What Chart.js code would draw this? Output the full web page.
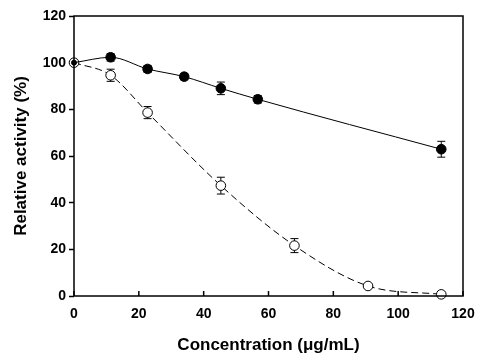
<!DOCTYPE html>
<html>
<head>
<meta charset="utf-8">
<script src="https://cdn.jsdelivr.net/npm/chart.js@4.4.1/dist/chart.umd.min.js"></script>
<style>
html,body{margin:0;padding:0;background:#fff;}
#wrap{width:485px;height:364px;}
</style>
</head>
<body>
<div id="wrap"><canvas id="c" width="485" height="364"></canvas></div>
<script>
// ---- data ----
const concFilled = [0, 11.3, 22.7, 34, 45.3, 56.7, 113.3];
const activityFilled = [100, 102.3, 97.3, 94.0, 89.0, 84.3, 62.9];
const errFilled = [0, 1.6, 1.5, 1.4, 2.7, 1.6, 3.4];

const concOpen = [0, 11.3, 22.7, 45.3, 68, 90.7, 113.3];
const activityOpen = [100, 94.6, 78.6, 47.3, 21.6, 4.3, 0.7];
const errOpen = [0, 2.6, 2.6, 3.6, 3.0, 0.6, 0.4];

const xTicks = [0, 20, 40, 60, 80, 100, 120];
const yTicks = [0, 20, 40, 60, 80, 100, 120];

const toPts = (xs, ys) => xs.map((x, i) => ({x: x, y: ys[i]}));

const FONT = "'Liberation Sans', Arial, Helvetica, sans-serif";

const framePlugin = {
  id: 'frame',
  beforeDatasetsDraw(chart) {
    const {ctx, scales} = chart;
    const xs = scales.x, ys = scales.y;
    ctx.save();
    const sets = [[concFilled, activityFilled, errFilled], [concOpen, activityOpen, errOpen]];
    ctx.strokeStyle = '#000';
    ctx.lineWidth = 1;
    sets.forEach(([xv, yv, ev]) => {
      xv.forEach((xval, i) => {
        if (!ev[i]) return;
        const px = xs.getPixelForValue(xval);
        const pt = ys.getPixelForValue(yv[i] + ev[i]);
        const pb = ys.getPixelForValue(yv[i] - ev[i]);
        ctx.beginPath();
        ctx.moveTo(px, pt); ctx.lineTo(px, pb);
        ctx.moveTo(px - 4, pt); ctx.lineTo(px + 4, pt);
        ctx.moveTo(px - 4, pb); ctx.lineTo(px + 4, pb);
        ctx.stroke();
      });
    });
    ctx.restore();
  },
  afterDraw(chart) {
    const {ctx, chartArea: a, scales} = chart;
    ctx.save();
    ctx.strokeStyle = '#000';
    ctx.lineWidth = 1.5;
    ctx.strokeRect(a.left, a.top, a.right - a.left, a.bottom - a.top);
    xTicks.forEach(v => {
      const px = scales.x.getPixelForValue(v);
      ctx.beginPath();
      ctx.moveTo(px, a.bottom);
      ctx.lineTo(px, a.bottom - 5);
      ctx.stroke();
    });
    ctx.restore();
  }
};

new Chart(document.getElementById('c'), {
  type: 'line',
  data: {
    datasets: [
      {
        data: toPts(concFilled, activityFilled),
        borderColor: '#000',
        borderWidth: 1,
        backgroundColor: '#000',
        pointBackgroundColor: '#000',
        pointBorderColor: '#000',
        pointBorderWidth: 1,
        pointRadius: ctx => ctx.dataIndex === 0 ? 2.5 : 4.8,
        cubicInterpolationMode: 'monotone',
        fill: false,
        clip: false
      },
      {
        data: toPts(concOpen, activityOpen),
        borderColor: '#000',
        borderWidth: 1,
        borderDash: [7, 4],
        backgroundColor: '#fff',
        pointBackgroundColor: '#fff',
        pointBorderColor: '#000',
        pointBorderWidth: 1,
        pointRadius: 4.8,
        cubicInterpolationMode: 'monotone',
        fill: false,
        clip: false
      }
    ]
  },
  options: {
    responsive: false,
    animation: false,
    layout: {padding: {top: 16, right: 22, left: 0, bottom: 0}},
    plugins: {legend: {display: false}, tooltip: {enabled: false}},
    scales: {
      x: {
        type: 'linear',
        min: 0, max: 120,
        afterBuildTicks: s => { s.ticks = xTicks.map(v => ({value: v})); },
        afterFit: s => { s.height = 68; },
        border: {display: false},
        grid: {display: true, drawOnChartArea: false, drawTicks: false},
        ticks: {color: '#000', padding: 10, maxRotation: 0, font: {family: FONT, size: 14, weight: 'bold'}},
        title: {display: true, text: 'Concentration (\u03bcg/mL)', color: '#000', padding: {top: 0, bottom: 8}, font: {family: FONT, size: 17, weight: 'bold'}}
      },
      y: {
        type: 'linear',
        min: 0, max: 120,
        afterBuildTicks: s => { s.ticks = yTicks.map(v => ({value: v})); },
        afterFit: s => { s.width = 74; },
        border: {display: false},
        grid: {display: true, drawOnChartArea: false, drawTicks: true, tickLength: 5, tickColor: '#000', tickWidth: 1.5},
        ticks: {color: '#000', padding: 3, font: {family: FONT, size: 14, weight: 'bold'}},
        title: {display: true, text: 'Relative activity (%)', color: '#000', padding: {top: 11, bottom: 0}, font: {family: FONT, size: 17, weight: 'bold'}}
      }
    }
  },
  plugins: [framePlugin]
});
</script>
</body>
</html>
